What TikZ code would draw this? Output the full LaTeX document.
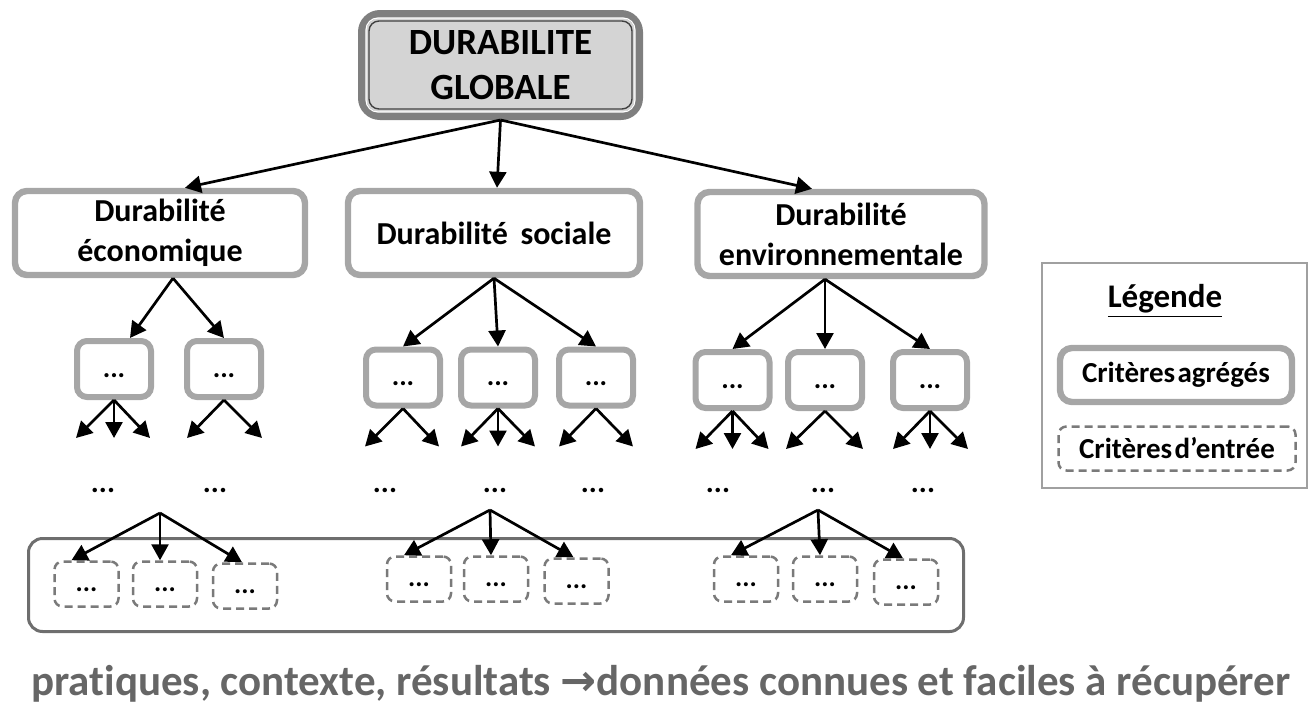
\documentclass[tikz,border=0pt]{standalone}
\usepackage{fontspec}
\setmainfont{Carlito}[Ligatures=NoCommon]
\newfontfamily\symfont{DejaVu Sans}
\usetikzlibrary{arrows.meta}
\definecolor{rim}{HTML}{A6A6A6}
\definecolor{darkrim}{HTML}{7F7F7F}
\definecolor{globfill}{HTML}{D4D4D4}
\definecolor{dashgray}{HTML}{7A7A7A}
\definecolor{poolgray}{HTML}{6E6E6E}
\definecolor{legrim}{HTML}{A0A0A0}
\definecolor{note}{HTML}{666666}
\tikzset{
  arr/.style={-{Triangle[length=8pt,width=8.5pt]}, line width=1.35pt},
  glob/.style={draw=darkrim, line width=4pt, fill=globfill, rounded corners=9pt,
    minimum width=138.5pt, minimum height=51pt, align=center,
    font=\fontsize{18.5}{22.5}\selectfont\bfseries},
  agg/.style={draw=rim, line width=3.2pt, rounded corners=6pt, align=center,
    minimum height=42pt, font=\fontsize{16}{20}\selectfont\bfseries},
  crit/.style={draw=rim, line width=3pt, rounded corners=5pt, minimum width=37pt,
    minimum height=28pt, text height=8pt, text depth=0pt,
    font=\fontsize{14}{16}\selectfont\bfseries},
  inp/.style={draw=dashgray, line width=1.25pt, dash pattern=on 4pt off 2.5pt,
    rounded corners=4pt},
  leaf/.style={inp, minimum width=32pt, minimum height=22.5pt, text height=7pt,
    text depth=0pt, font=\fontsize{13.5}{15}\selectfont\bfseries},
  pts/.style={inner sep=0pt, font=\fontsize{15}{17}\selectfont\bfseries},
  pool/.style={draw=poolgray, line width=1.5pt, rounded corners=7pt,
    minimum width=467.5pt, minimum height=46.5pt},
}
\begin{document}
\begin{tikzpicture}[x=0.5pt,y=-0.5pt]
\useasboundingbox (0,0) rectangle (1313,707);
% sommet
\node[glob] (glob) at (500.5,65) {DURABILITE\\GLOBALE};
\draw[white, line width=0.6pt, rounded corners=6pt] ([shift={(8,8)}]glob.north west) rectangle ([shift={(-8,-8)}]glob.south east);
\draw[black!75, line width=0.7pt, rounded corners=5pt] ([shift={(11,11)}]glob.north west) rectangle ([shift={(-11,-11)}]glob.south east);
% trois dimensions
\node[agg, minimum width=145pt] (econ) at (160,233) {Durabilité\\économique};
\node[agg, minimum width=146pt] (soc) at (494,233) {Durabilité\, sociale};
\node[agg, minimum width=143.5pt] (env) at (841,234) {Durabilité\\environnementale};
\draw[arr] (glob.south) -- ([xshift=12.5pt]econ.north);
\draw[arr] (glob.south) -- ([xshift=1.5pt]soc.north);
\draw[arr] (glob.south) -- ([xshift=-14.5pt]env.north);
% criteres agreges
\node[crit] (e1) at (114,369) {...};
\node[crit] (e2) at (224,369) {...};
\node[crit] (s1) at (403,377.5) {...};
\node[crit] (s2) at (498,377.5) {...};
\node[crit] (s3) at (596,377.5) {...};
\node[crit] (v1) at (732.5,380) {...};
\node[crit] (v2) at (825,380) {...};
\node[crit] (v3) at (930,380) {...};
\draw[arr] ([xshift=6.5pt]econ.south) -- ([xshift=8pt]e1.north);
\draw[arr] ([xshift=6.5pt]econ.south) -- (e2.north);
\foreach \n in {s1,s2,s3} \draw[arr] (soc.south) -- (\n.north);
\foreach \n in {v1,v2,v3} \draw[arr] ([xshift=-8pt]env.south) -- (\n.north);
\foreach \n/\dx [count=\i] in {e1/-38,e1/0,e1/36,e2/-37,e2/38,s1/-38,s1/36,s2/-37,s2/0,s2/37,
  s3/-37,s3/37,v1/-37,v1/0,v1/36,v2/-39,v2/38,v3/-37,v3/0,v3/38}
  \draw[arr] (\n.south) -- ++(\dx,38) coordinate (t\i);
\foreach \n/\x in {l1/103,l2/215,l3/385,l4/495,l5/593,l6/718,l7/823,l8/923}
  \node[pts] (\n) at (\x,490) {...};
% criteres d'entree
\node[pool] (pool) at (496,585) {};
\coordinate (eo) at (160,513);
\coordinate (so) at (490,510);
\coordinate (vo) at (818,510);
\node[leaf] (ed1) at (86.5,584) {...};
\node[leaf] (ed2) at (165,584) {...};
\node[leaf] (ed3) at (245,586) {...};
\node[leaf] (sd1) at (419,579) {...};
\node[leaf] (sd2) at (496,579) {...};
\node[leaf] (sd3) at (576.5,581) {...};
\node[leaf] (vd1) at (746,579) {...};
\node[leaf] (vd2) at (825,579) {...};
\node[leaf] (vd3) at (906,582) {...};
\foreach \o/\a/\b/\c in {eo/ed1/ed2/ed3,so/sd1/sd2/sd3,vo/vd1/vd2/vd3}{
  \draw[arr] (\o) -- ([xshift=-7.5pt]\a.north);
  \draw[arr] (\o) -- ([xshift=-2.5pt]\b.north);
  \draw[arr] (\o) -- ([xshift=-1.5pt]\c.north);
}
% legende
\node[draw=legrim, line width=0.6pt, minimum width=132.5pt, minimum height=112.5pt] (leg) at (1174.5,375.5) {};
\node[font=\fontsize{16.5}{19}\selectfont\bfseries] (legt) at (1165,301) {\underline{Légende}};
\node[agg, minimum width=116pt, minimum height=27pt, font=\fontsize{14.5}{17}\selectfont\bfseries] (legagg) at (1176,375) {Critères\hspace{0.08em}agrégés};
\node[inp, minimum width=118.5pt, minimum height=22pt, font=\fontsize{14.5}{17}\selectfont\bfseries] (leginp) at (1177,448.5) {Critères\hspace{0.08em}d’entrée};
% bas
\node[anchor=base, text=note, font=\fontsize{21.5}{25}\selectfont\bfseries] (note) at (661,695) {pratiques, contexte, résultats {\symfont →}données connues et faciles à récupérer};
\end{tikzpicture}
\end{document}
